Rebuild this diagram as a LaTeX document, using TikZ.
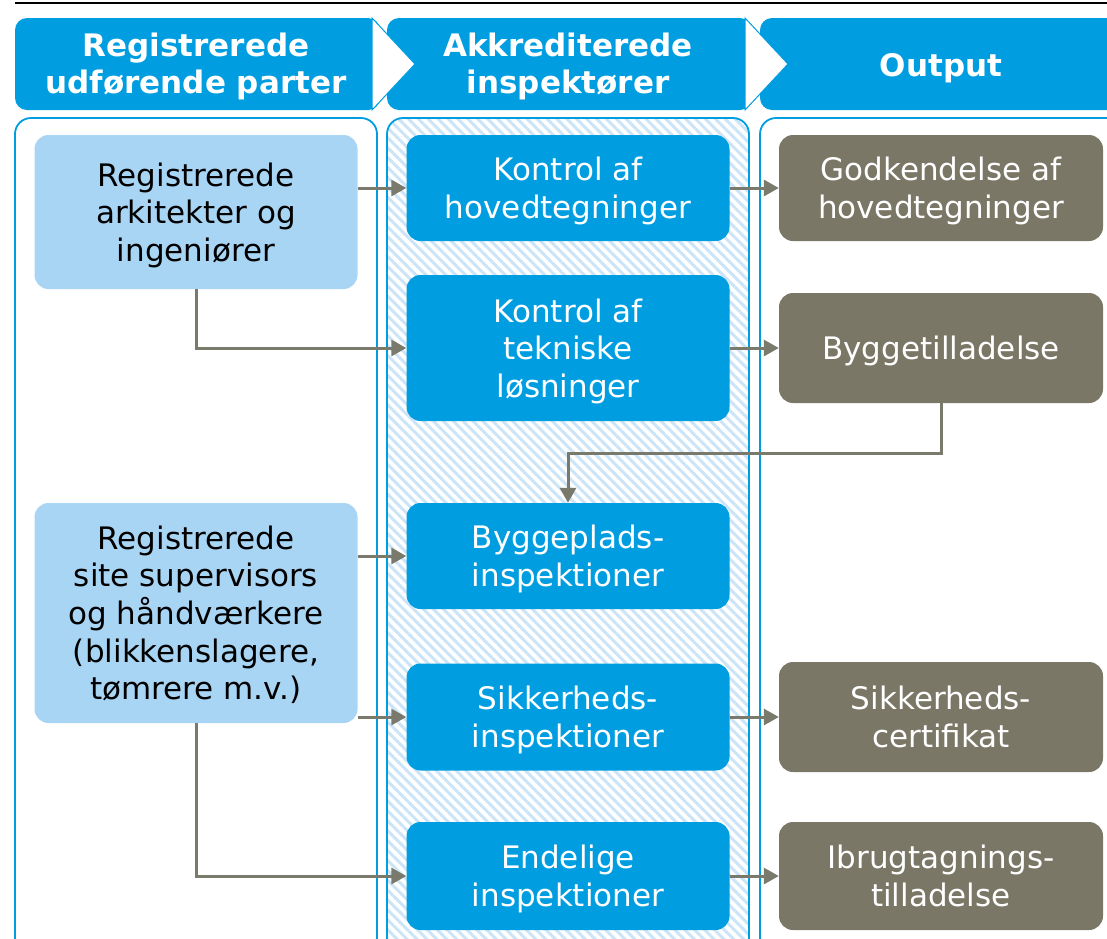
\documentclass[tikz,border=0pt]{standalone}
\usepackage{fontspec}
\setmainfont{DejaVu Sans}
\usetikzlibrary{arrows.meta,patterns.meta}
\definecolor{hblue}{RGB}{0,158,224}
\definecolor{lblue}{RGB}{169,213,245}
\definecolor{ogray}{RGB}{122,119,102}
\definecolor{agray}{RGB}{122,122,108}
\definecolor{hatchc}{RGB}{203,228,247}
\newcommand\lowtext[2][4pt]{\raisebox{-#1}[\height][\depth]{\begin{tabular}{@{}c@{}}#2\end{tabular}}}
\begin{document}
\begin{tikzpicture}[x=1pt,y=-1pt,
  box/.style={rounded corners=14pt, minimum width=323pt,
    font=\fontsize{31}{37.5}\selectfont, inner sep=0pt},
  lbox/.style={box, fill=lblue, text=black},
  mbox/.style={box, fill=hblue, text=white},
  obox/.style={box, fill=ogray, text=white},
  htext/.style={text=white, font=\fontsize{31}{37}\selectfont\bfseries, inner sep=0pt},
  hshape/.style={fill=hblue, rounded corners=12pt},
  chev/.style={fill=white, draw=hblue, line width=1pt},
  panel/.style={draw=hblue, line width=1.8pt, rounded corners=16pt},
  arr/.style={draw=agray, line width=3pt, -{Triangle[length=15pt,width=16pt]}}
]
\useasboundingbox (0,0) rectangle (1107,938);
\clip (0,0) rectangle (1107,938);
% top rule
\draw[black, line width=2pt] (15,3) -- (1107,3);
% headers
\path[hshape] (15,18) rectangle (380,110);
\path[hshape] (387,18) rectangle (752,110);
\path[hshape] (760,18) rectangle (1130,110);
\path[chev] (372,18) -- (415,64) -- (372,110) -- cycle;
\path[chev] (745,18) -- (788,64) -- (745,110) -- cycle;
\node[htext] (h1) at (196,65) {\lowtext[3pt]{Registrerede\\udførende parter}};
\node[htext] (h2) at (568,65) {\lowtext[3pt]{Akkrediterede\\inspektører}};
\node[htext] (h3) at (941,66) {\lowtext[3pt]{Output}};
% panels
\path[pattern={Lines[angle=-45,distance=7pt,line width=3pt]}, pattern color=hatchc, rounded corners=16pt] (387,118) rectangle (749,955);
\path[panel] (15,118) rectangle (377,955);
\path[panel] (387,118) rectangle (749,955);
\path[panel] (760,118) rectangle (1130,955);
% left boxes
\node[lbox, minimum height=154pt] (A) at (196,212) {\lowtext{Registrerede\\arkitekter og\\ingeniører}};
\node[lbox, minimum height=220pt] (B) at (196,613) {\lowtext{Registrerede\\site supervisors\\og håndværkere\\(blikkenslagere,\\tømrere m.v.)}};
% middle boxes
\node[mbox, minimum height=106pt] (M1) at (568,188) {\lowtext{Kontrol af\\hovedtegninger}};
\node[mbox, minimum height=146pt] (M2) at (568,348) {\lowtext{Kontrol af\\tekniske\\løsninger}};
\node[mbox, minimum height=106pt] (M3) at (568,556) {\lowtext{Byggeplads-\\inspektioner}};
\node[mbox, minimum height=107pt] (M4) at (568,717) {\lowtext{Sikkerheds-\\inspektioner}};
\node[mbox, minimum height=108pt] (M5) at (568,876) {\lowtext{Endelige\\inspektioner}};
% output boxes
\node[obox, minimum height=106pt, minimum width=324pt] (R1) at (941,188) {\lowtext{Godkendelse af\\hovedtegninger}};
\node[obox, minimum height=110pt, minimum width=324pt] (R2) at (941,348) {\lowtext{Byggetilladelse}};
\node[obox, minimum height=110pt, minimum width=324pt] (R3) at (941,717) {\lowtext{Sikkerheds-\\certifikat}};
\node[obox, minimum height=108pt, minimum width=324pt] (R4) at (941,876) {\lowtext{Ibrugtagnings-\\tilladelse}};
% connectors
\draw[arr] (M1.west -| A.east) -- (M1.west);
\draw[arr] (A.south) |- (M2.west);
\draw[arr] (M1.east) -- (R1.west);
\draw[arr] (M2.east) -- (R2.west);
\coordinate (k) at (941,453);
\draw[arr] (R2.south) -- (k) -| (M3.north);
\draw[arr] (M3.west -| B.east) -- (M3.west);
\draw[arr] (M4.west -| B.east) -- (M4.west);
\draw[arr] (B.south) |- (M5.west);
\draw[arr] (M4.east) -- (R3.west);
\draw[arr] (M5.east) -- (R4.west);
\end{tikzpicture}
\end{document}
